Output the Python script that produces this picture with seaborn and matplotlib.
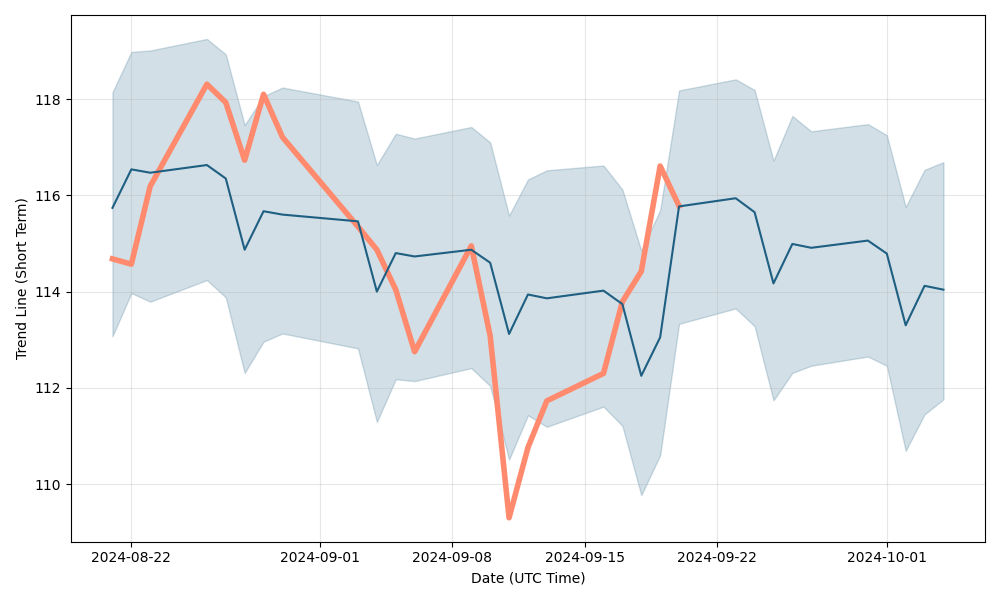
import numpy as np
import pandas as pd
import matplotlib
matplotlib.use("Agg")
import matplotlib.pyplot as plt
import seaborn as sns

# trading days shown on the chart
dates = pd.to_datetime([
    "2024-08-21", "2024-08-22", "2024-08-23", "2024-08-26", "2024-08-27",
    "2024-08-28", "2024-08-29", "2024-08-30", "2024-09-03", "2024-09-04",
    "2024-09-05", "2024-09-06", "2024-09-09", "2024-09-10", "2024-09-11",
    "2024-09-12", "2024-09-13", "2024-09-16", "2024-09-17", "2024-09-18",
    "2024-09-19", "2024-09-20", "2024-09-23", "2024-09-24", "2024-09-25",
    "2024-09-26", "2024-09-27", "2024-09-30", "2024-10-01", "2024-10-02",
    "2024-10-03", "2024-10-04",
])

trend = [115.74, 116.54, 116.47, 116.63, 116.35, 114.87, 115.67, 115.60,
         115.46, 114.00, 114.80, 114.73, 114.87, 114.60, 113.12, 113.94,
         113.86, 114.02, 113.74, 112.25, 113.05, 115.77, 115.94, 115.65,
         114.17, 114.99, 114.91, 115.06, 114.79, 113.30, 114.12, 114.04]

upper = [118.14, 118.98, 119.01, 119.25, 118.93, 117.46, 118.06, 118.24,
         117.95, 116.63, 117.28, 117.18, 117.42, 117.10, 115.58, 116.33,
         116.52, 116.62, 116.12, 114.85, 115.69, 118.18, 118.41, 118.19,
         116.72, 117.65, 117.33, 117.48, 117.25, 115.76, 116.53, 116.69]

lower = [113.07, 113.97, 113.79, 114.24, 113.88, 112.31, 112.96, 113.13,
         112.82, 111.29, 112.18, 112.14, 112.41, 112.04, 110.51, 111.43,
         111.19, 111.61, 111.21, 109.77, 110.60, 113.33, 113.65, 113.28,
         111.74, 112.31, 112.46, 112.65, 112.46, 110.69, 111.45, 111.76]

# actual price, available up to 2024-09-20
price = [114.68, 114.57, 116.19, 118.31, 117.93, 116.73, 118.10, 117.21,
         115.35, 114.87, 114.04, 112.75, 114.95, 113.08, 109.30, 110.76,
         111.73, 112.30, 113.79, 114.42, 116.61, 115.78]

blue = "#1e5f82"
orange = "#ff8a6e"

fig, ax = plt.subplots(figsize=(10, 6))

ax.fill_between(dates, lower, upper, color=blue, alpha=0.2)
sns.lineplot(x=dates[:len(price)], y=price, ax=ax, color=orange, lw=4)
sns.lineplot(x=dates, y=trend, ax=ax, color=blue, lw=1.5)

ax.grid(True, alpha=0.3)
ax.set_xlabel("Date (UTC Time)")
ax.set_ylabel("Trend Line (Short Term)")

plt.tight_layout()
plt.savefig("out.png", dpi=100)
